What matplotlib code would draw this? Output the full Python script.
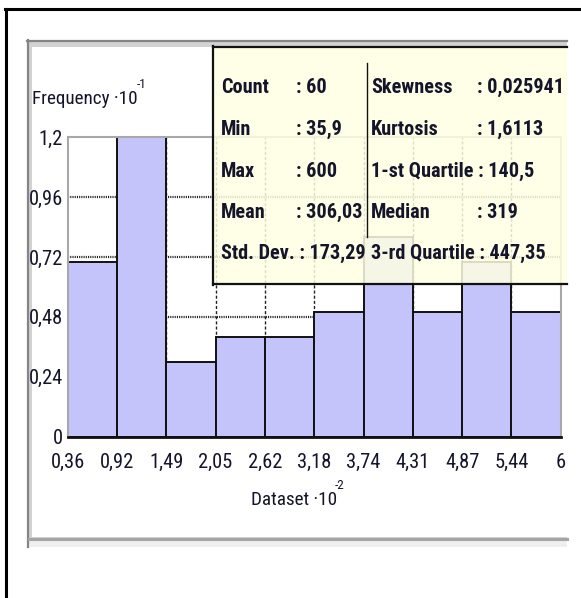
import numpy as np
import matplotlib
matplotlib.use("Agg")
import matplotlib.pyplot as plt
from matplotlib.patches import Rectangle
from matplotlib.lines import Line2D
from matplotlib.transforms import Affine2D

# ---- data -------------------------------------------------------------
bin_edges = [0.359, 0.9231, 1.4872, 2.0513, 2.6154, 3.1795,
             3.7436, 4.3077, 4.8718, 5.4359, 6.0]
edge_labels = ["0,36", "0,92", "1,49", "2,05", "2,62", "3,18",
               "3,74", "4,31", "4,87", "5,44", "6"]
frequency = [0.7, 1.2, 0.3, 0.4, 0.4, 0.5, 0.8, 0.5, 0.7, 0.5]
y_ticks = [0, 0.24, 0.48, 0.72, 0.96, 1.2]
y_labels = ["0", "0,24", "0,48", "0,72", "0,96", "1,2"]

stats_left = [("Count", ": 60"), ("Min", ": 35,9"), ("Max", ": 600"),
              ("Mean", ": 306,03"), ("Std. Dev. : 173,29", None)]
stats_right = [("Skewness", ": 0,025941"), ("Kurtosis", ": 1,6113"),
               ("1-st Quartile : 140,5", None), ("Median", ": 319"),
               ("3-rd Quartile : 447,35", None)]

# ---- figure -----------------------------------------------------------
W, H = 581, 598
plt.rcParams["font.family"] = ["Liberation Sans Narrow", "Roboto Condensed",
                               "DejaVu Sans"]
plt.rcParams["font.stretch"] = "condensed"
plt.rcParams["lines.scale_dashes"] = False
fig = plt.figure(figsize=(W / 100, H / 100), dpi=100)
fig.patch.set_facecolor("white")

# pixel coordinates, origin at top-left
pix = Affine2D().scale(1 / W, -1 / H).translate(0, 1) + fig.transFigure

TXT = "#14142a"

# outer frame
fig.add_artist(Line2D([6, 6], [9, 600], transform=pix, color="black", lw=2.2, zorder=-3))
fig.add_artist(Line2D([5, 590], [9, 9], transform=pix, color="black", lw=2.2, zorder=-3))

# panel with sunken border
fig.add_artist(Rectangle((27, 40), 540, 507, transform=pix, facecolor="#efefef",
                         edgecolor="none", zorder=-2))
fig.add_artist(Rectangle((29, 42), 538, 496, transform=pix, facecolor="#d2d2d2",
                         edgecolor="none", zorder=-2))
fig.add_artist(Rectangle((32, 47), 535, 490, transform=pix, facecolor="white",
                         edgecolor="none", zorder=-2))
fig.add_artist(Line2D([27.5, 27.5], [40, 547], transform=pix, color="#858585", lw=1.6, zorder=-1))
fig.add_artist(Line2D([27, 567], [40.5, 40.5], transform=pix, color="#858585", lw=1.6, zorder=-1))
fig.add_artist(Line2D([29, 567], [538.5, 538.5], transform=pix, color="#a5a5a5", lw=2.2, zorder=-1))

# ---- histogram axes ----------------------------------------------------
x0, x1, ytop, ybot = 67.7, 560.7, 137.3, 436.5
ax = fig.add_axes([x0 / W, 1 - ybot / H, (x1 - x0) / W, (ybot - ytop) / H])
ax.set_facecolor("white")
ax.set_xlim(bin_edges[0], bin_edges[-1])
ax.set_ylim(0, 1.2)

widths = np.diff(bin_edges)
ax.bar(bin_edges[:-1], frequency, width=widths, align="edge",
       color="#c4c4fa", edgecolor="#111111", linewidth=1.4, zorder=2)

ax.set_xticks(bin_edges)
ax.set_xticklabels(edge_labels)
ax.set_yticks(y_ticks)
ax.set_yticklabels(y_labels)
ax.tick_params(axis="x", length=0, pad=12, labelsize=14.8, labelcolor=TXT)
ax.tick_params(axis="y", length=0, pad=3.4, labelsize=14.8, labelcolor=TXT)

ax.yaxis.grid(True, color="#222222", linestyle=(0, (0.8, 0.8)), linewidth=1.6, zorder=1)
ax.xaxis.grid(True, color="#222222", linestyle=(0, (2.2, 1.5)), linewidth=1.0, zorder=1)
ax.set_axisbelow(True)
yt = ax.yaxis.get_major_ticks()
yt[0].gridline.set_visible(False)
yt[-1].gridline.set_visible(False)
xt = ax.xaxis.get_major_ticks()
xt[0].gridline.set_visible(False)
xt[-1].gridline.set_visible(False)

for side in ("left", "top", "right"):
    ax.spines[side].set_color("#a8a8a8")
    ax.spines[side].set_linewidth(1.5)
ax.spines["bottom"].set_color("#111111")
ax.spines["bottom"].set_linewidth(2.0)
ax.spines["bottom"].set_zorder(3)

# ---- statistics box -------------------------------------------------------
fig.add_artist(Rectangle((213, 47), 354, 237, transform=pix,
                         facecolor=(1.0, 1.0, 0.894, 0.85), edgecolor="none", zorder=5))
fig.add_artist(Line2D([213, 213], [46, 285], transform=pix, color="#111111", lw=1.6, zorder=6))
fig.add_artist(Line2D([213, 567], [47, 47], transform=pix, color="#111111", lw=1.6, zorder=6))
fig.add_artist(Line2D([213, 567], [284, 284], transform=pix, color="#111111", lw=1.6, zorder=6))
fig.add_artist(Line2D([367, 367], [63, 237], transform=pix, color="#111111", lw=1.0, zorder=6))

row_base = [93, 135, 177, 218, 259]
for col_x, val_x, rows in ((221, 296, stats_left), (371, 477, stats_right)):
    for (lab, val), yb in zip(rows, row_base):
        fig.text(col_x, yb, lab, transform=pix, fontsize=14.6, fontweight="bold",
                 color=TXT, ha="left", va="baseline", zorder=7)
        if val:
            fig.text(val_x, yb, val, transform=pix, fontsize=14.6, fontweight="bold",
                     color=TXT, ha="left", va="baseline", zorder=7)

# axis titles
fig.text(32, 104, "Frequency ·10", transform=pix, fontsize=13.8, color=TXT,
         ha="left", va="baseline")
fig.text(137, 88, "-1", transform=pix, fontsize=9.5, color=TXT,
         ha="left", va="baseline")
fig.text(294, 505, "Dataset ·10", transform=pix, fontsize=13.8, color=TXT,
         ha="center", va="baseline")
fig.text(335, 489, "-2", transform=pix, fontsize=9.5, color=TXT,
         ha="left", va="baseline")

fig.savefig("out.png", dpi=100)
